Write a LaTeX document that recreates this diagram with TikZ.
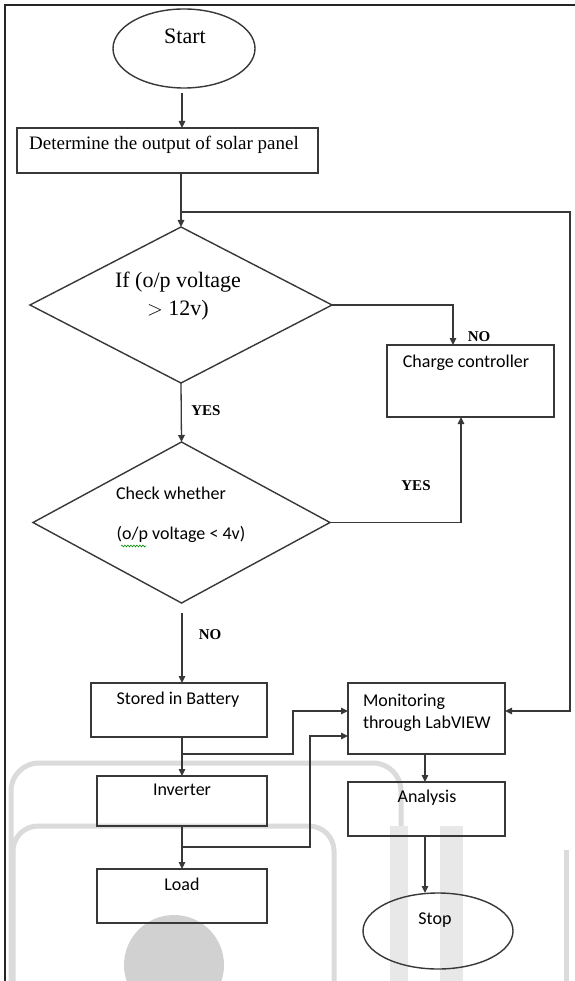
\documentclass[tikz,border=0pt]{standalone}
\usepackage{fontspec}
\setmainfont{Liberation Serif}
\newfontfamily\calib{Carlito}
\usetikzlibrary{shapes.geometric,arrows.meta,decorations.pathmorphing}
\begin{document}
\begin{tikzpicture}[x=1pt,y=-1pt,
  every node/.style={inner sep=0pt, outer sep=0pt},
  shp/.style={draw=black!78, line width=1.4pt},
  boxs/.style={shp, rectangle},
  lin/.style={draw=black!78, line width=1.3pt},
  arr/.style={lin, -{Triangle[length=7pt,width=6.5pt]}},
  sf/.style={font=\calib\fontsize{18}{23}\selectfont, anchor=mid},
  rm/.style={font=\fontsize{19}{22}\selectfont, anchor=mid},
  lab/.style={font=\bfseries\fontsize{15}{18}\selectfont, anchor=mid},
  wm/.style={draw=black!14, line width=5pt},
]
\useasboundingbox (0,0) rectangle (574,981);
\fill[white] (0,0) rectangle (574,981);

% faint watermark shapes
\draw[wm, rounded corners=28pt] (11,995) -- (11,763) -- (401,763) -- (401,995);
\draw[wm, rounded corners=25pt] (13,995) -- (13,826) -- (334,826) -- (334,995);
\fill[black!18] (174,965) circle (50pt);
\fill[black!9] (390,826) rectangle (408,981);
\fill[black!9] (440,826) rectangle (463,981);
\draw[wm] (566,850) -- (566,981);

% frame
\draw[black!85, line width=1.2pt] (5,990) -- (5,5) -- (580,5);

% shapes
\node[shp, ellipse, minimum width=142pt, minimum height=79pt] (start) at (184,48.5) {};
\node[rm, font=\fontsize{22}{24}\selectfont] (tstart) at (185,41) {Start};

\node[boxs, minimum width=301pt, minimum height=45pt] (det) at (167.5,150.5) {};
\node[rm] (tdet) at (164,147) {Determine the output of solar panel};

\node[shp, diamond, minimum width=302pt, minimum height=156pt] (dia1) at (181,305) {};
\node[font=\fontsize{22}{28}\selectfont, align=center, anchor=center] (tdia1) at (178,296) {If (o/p voltage\\ $>$ 12v)};

\node[boxs, minimum width=167pt, minimum height=72pt] (cc) at (470.5,381) {};
\node[sf] (tcc) at (466,365) {Charge controller};

\node[shp, diamond, minimum width=297pt, minimum height=161pt] (dia2) at (181.5,522.5) {};
\node[sf] (tdia2a) at (171,497) {Check whether};
\node[sf] (tdia2b) at (181,537) {(o/p voltage < 4v)};
\draw[green!55!black, line width=0.6pt, decorate, decoration={snake, amplitude=0.9pt, segment length=3pt}] (121,546) -- (146,546);

\node[boxs, minimum width=176pt, minimum height=54pt] (bat) at (179,710) {};
\node[sf] (tbat) at (178,702) {Stored in Battery};

\node[boxs, minimum width=157pt, minimum height=71pt] (mon) at (426.5,718.5) {};
\node[sf, anchor=west, align=left, font=\calib\fontsize{18}{22}\selectfont] (tmon) at (363,713) {Monitoring\\through LabVIEW};

\node[boxs, minimum width=170pt, minimum height=50pt] (inv) at (182,801) {};
\node[sf] (tinv) at (182,793) {Inverter};

\node[boxs, minimum width=170pt, minimum height=54pt] (load) at (182,896) {};
\node[sf] (tload) at (182,888) {Load};

\node[boxs, minimum width=157pt, minimum height=54pt] (ana) at (426.5,809) {};
\node[sf] (tana) at (427,800) {Analysis};

\node[shp, ellipse, minimum width=150pt, minimum height=76pt] (stop) at (438,931) {};
\node[sf] (tstop) at (435,922) {Stop};

% connectors
\coordinate (s0) at (182,93);
\draw[arr] (s0) -- (s0 |- det.north);
\draw[arr] (dia1.north |- det.south) -- (dia1.north);
\coordinate (j1) at (181,212);
\coordinate (fbR) at (570,212);
\draw[arr] (j1) -- (fbR) |- ([yshift=7.5pt]mon.east);

\draw[arr] (dia1.east) -| ([xshift=-17.5pt]cc.north);
\node[lab] (lno1) at (479,339) {NO};

\draw[arr] (dia1.south) -- (dia2.north);
\node[lab] (lyes1) at (206,413) {YES};

\draw[arr] (dia2.east) -| ([xshift=-9.5pt]cc.south);
\node[lab] (lyes2) at (416,488) {YES};

\coordinate (d2b) at (182,613);
\draw[arr] (d2b) -- (d2b |- bat.north);
\node[lab] (lno2) at (210,637) {NO};

\draw[arr] (inv.north |- bat.south) -- (inv.north);
\coordinate (b1) at (182,754);
\draw[arr] (b1) -- (293,754) |- ([yshift=7.5pt]mon.west);

\draw[arr] (inv.south) -- (load.north);
\coordinate (b2) at (182,847);
\draw[arr] (b2) -- (310,847) |- ([yshift=-17.5pt]mon.west);

\coordinate (m1) at (425,754);
\draw[arr] (m1) -- (m1 |- ana.north);
\coordinate (a1) at (425,836);
\draw[arr] (a1) -- (a1 |- stop.north);
\end{tikzpicture}
\end{document}
